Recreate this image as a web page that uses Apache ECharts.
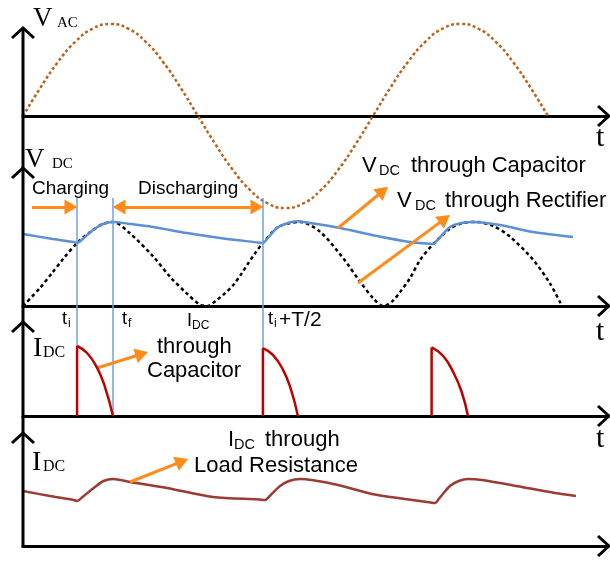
<!DOCTYPE html>
<html><head><meta charset="utf-8">
<script src="https://cdn.jsdelivr.net/npm/echarts@6/dist/echarts.min.js"></script>
<style>html,body{margin:0;padding:0;background:#fff}#c{width:610px;height:581px}</style>
</head><body><div id="c"></div>
<script>
// time axis in ms (50 Hz supply); voltages in V; currents normalised
const tMax = 33.43;

// Panel 1: AC supply voltage
const vacTime   = [0,1,2,3,4,5,6,7,8,9,10,11,12,13,14,15,16,17,18,19,20,21,22,23,24,25,26,27,28,29,30];
const vacValues = [0,3.09,5.88,8.09,9.51,10,9.51,8.09,5.88,3.09,0,-3.09,-5.88,-8.09,-9.51,-10,-9.51,-8.09,-5.88,-3.09,0,3.09,5.88,8.09,9.51,10,9.51,8.09,5.88,3.09,0];

// Panel 2: rectifier output and capacitor voltage
const vRectifier = [[0,0],[0.97,1.96],[1.66,3.59],[2.34,5.22],[3.09,6.85],[4.0,8.26],[4.57,8.91],[5.14,9.13],[6.11,7.9],[7.45,5.36],[8.4,3.18],[9.35,1.38],[10.11,0.15],[10.55,0],[11.07,0.65],[11.54,1.38],[12.02,2.28],[12.5,3.55],[12.87,4.64],[13.26,5.72],[13.71,6.85],[14.51,8.48],[15.26,9.02],[15.83,9.13],[16.97,8.08],[18.3,5.18],[19.26,2.64],[20.02,0.83],[20.59,0],[21.1,0.5],[21.54,1.5],[22.11,3.01],[22.69,5.0],[23.43,6.7],[24.4,8.4],[25.14,9.02],[25.94,9.13],[26.86,8.7],[27.83,7.54],[29.16,5.0],[30.11,2.46],[30.8,0]];
const vCapacitor = [[0,7.83],[1.71,7.28],[2.9,6.95],[3.09,6.85],[3.4,7.25],[4.0,8.26],[4.57,8.91],[5.14,9.13],[6.0,8.95],[7.43,8.59],[9.37,7.93],[11.26,7.39],[13.45,6.9],[13.71,6.85],[13.95,7.3],[14.51,8.48],[15.1,9.0],[15.66,9.2],[16.4,9.02],[18.11,8.48],[20.23,7.61],[22.11,6.96],[23.2,6.77],[23.43,6.74],[23.7,7.2],[24.4,8.59],[25.0,9.0],[25.71,9.13],[27.26,8.8],[29.14,8.04],[31.43,7.5]];

// instants t_i, t_f, t_i + T/2
const tMarks = [3.09, 5.14, 13.71];

// Panel 3: capacitor charging current pulses
const capPulse1 = [[3.09,0],[3.09,1.0],[3.66,0.9],[4.23,0.69],[4.69,0.41],[5.14,0]];
const capPulse2 = [[13.71,0],[13.71,0.97],[14.29,0.87],[14.86,0.66],[15.31,0.38],[15.71,0]];
const capPulse3 = [[23.35,0],[23.35,0.98],[24.0,0.86],[24.6,0.62],[25.06,0.35],[25.43,0]];

// Panel 4: load current
const iLoad = [[0,0.55],[1.54,0.50],[2.9,0.46],[3.09,0.45],[3.4,0.49],[4.11,0.59],[4.6,0.65],[5.14,0.67],[6.11,0.64],[8.23,0.58],[10.86,0.49],[13.5,0.465],[13.83,0.46],[14.1,0.5],[14.69,0.60],[15.2,0.65],[15.83,0.67],[18.0,0.61],[19.94,0.52],[21.83,0.47],[23.3,0.435],[23.54,0.43],[23.8,0.48],[24.4,0.60],[24.9,0.65],[25.43,0.67],[26.23,0.66],[28.51,0.59],[30.4,0.53],[31.6,0.50]];

// annotation arrows: [from, to]
const arrowCharging    = [[0.51,10.76],[2.74,10.76]];
const arrowDischarging = [[5.49,10.76],[13.37,10.76]];
const arrowCapVolt     = [[18.0,8.48],[20.57,12.5]];
const arrowRectVolt    = [[19.14,2.5],[24.1,9.47]];
const arrowCapCurrent  = [[4.23,0.686],[6.79,0.886]];
const arrowLoadCurrent = [[6.11,0.64],[9.09,0.846]];

const ORANGE = '#ff8c1a';
const SANS = "'Liberation Sans', Arial, sans-serif";
const SERIF = "'Liberation Serif', 'Times New Roman', serif";

const chart = echarts.init(document.getElementById('c'), null, {renderer:'canvas'});

const grids = [
  {left:23, top:24, width:585, height:184},
  {left:23, top:177.2, width:585, height:128.8},
  {left:23, top:346, width:585, height:70},
  {left:23, top:446, width:585, height:100},
  {left:23, top:198, width:585, height:218}
];
const yRanges = [[-10,10],[0,14],[0,1],[0,1],[0,1]];

function arrowML(pair, both) {
  return [
    {coord: pair[0], symbol: both ? 'triangle' : 'none'},
    {coord: pair[1], symbol: 'triangle'}
  ];
}
function markArrows(list) {
  return {
    silent: true, animation: false,
    symbolSize: [15, 13],
    lineStyle: {color: ORANGE, width: 3, type: 'solid'},
    itemStyle: {color: ORANGE},
    label: {show: false},
    emphasis: {disabled: true},
    data: list
  };
}
const base = {type:'line', showSymbol:false, symbol:'none', clip:false, animation:false, silent:true, emphasis:{disabled:true}};

const series = [
  Object.assign({}, base, {xAxisIndex:4, yAxisIndex:4, data:[], z:1,
    markLine:{silent:true, animation:false, symbol:['none','none'], label:{show:false},
      lineStyle:{color:'#6fa2de', width:1.5, type:'solid'}, emphasis:{disabled:true},
      data: tMarks.map(t=>({xAxis:t}))}}),
  Object.assign({}, base, {xAxisIndex:0, yAxisIndex:0, smooth:true,
    data: vacTime.map((t,i)=>[t, vacValues[i]]),
    lineStyle:{color:'#b8621b', width:2.5, type:[3,2.5]}}),
  Object.assign({}, base, {xAxisIndex:1, yAxisIndex:1, smooth:0.3,
    data: vRectifier, lineStyle:{color:'#000', width:2.5, type:[3.5,3]},
    markLine: markArrows([arrowML(arrowCharging,false), arrowML(arrowDischarging,true), arrowML(arrowCapVolt,false), arrowML(arrowRectVolt,false)])}),
  Object.assign({}, base, {xAxisIndex:1, yAxisIndex:1, smooth:0.3, z:3,
    data: vCapacitor, lineStyle:{color:'#5b8fd6', width:2.5}}),
  Object.assign({}, base, {xAxisIndex:3, yAxisIndex:3, smooth:0.3,
    data: iLoad, lineStyle:{color:'#9b3b33', width:2.5},
    markLine: markArrows([arrowML(arrowLoadCurrent,false)])})
];
[capPulse1, capPulse2, capPulse3].forEach((p, k) => {
  series.push(Object.assign({}, base, {xAxisIndex:2, yAxisIndex:2, smooth:false, z:5,
    data: p.slice(0,2), lineStyle:{color:'#c00000', width:2.5}}));
  const s = Object.assign({}, base, {xAxisIndex:2, yAxisIndex:2, smooth:0.5, z:5,
    data: p.slice(1), lineStyle:{color:'#c00000', width:2.5}});
  if (k === 0) s.markLine = markArrows([arrowML(arrowCapCurrent,false)]);
  series.push(s);
});

chart.setOption({
  backgroundColor:'#fff',
  animation:false,
  grid: grids.map(g => Object.assign({outerBoundsMode:'none', containLabel:false}, g)),
  xAxis: grids.map((g,i)=>({gridIndex:i, type:'value', min:0, max:tMax,
    axisLine:{show:i<4, onZero:true, lineStyle:{color:'#000', width:3}},
    axisTick:{show:false}, axisLabel:{show:false}, splitLine:{show:false}})),
  yAxis: grids.map((g,i)=>({gridIndex:i, type:'value', min:yRanges[i][0], max:yRanges[i][1],
    axisLine:{show:false}, axisTick:{show:false}, axisLabel:{show:false}, splitLine:{show:false}})),
  series: series
});

// decorations: axis arrows and text
const els = [];
const origin = chart.convertToPixel({gridIndex:0}, [0, 0]);
const ax = origin[0];
const ends = [0,1,2,3].map(i => chart.convertToPixel({gridIndex:i}, [tMax, 0]));
ends.forEach(p => {
  els.push({type:'polyline', silent:true, z:100,
    shape:{points:[[p[0]-10, p[1]-10],[p[0]+1, p[1]],[p[0]-10, p[1]+10]]},
    style:{stroke:'#000', lineWidth:3, fill:null}});
});
const upTips = [28, 168, 322, 433];
els.push({type:'line', silent:true, z:100, shape:{x1:ax, y1:upTips[0], x2:ax, y2:ends[3][1]+1.5},
  style:{stroke:'#000', lineWidth:3}});
upTips.forEach(y => {
  els.push({type:'polyline', silent:true, z:100,
    shape:{points:[[ax-11, y+10],[ax, y],[ax+11, y+10]]},
    style:{stroke:'#000', lineWidth:3, fill:null}});
});
function T(text, x, baseline, size, family) {
  const y = baseline - 0.33*size;
  els.push({type:'text', silent:true, z:101,
    style:{text:text, x:x, y:y, font: size + 'px ' + family, fill:'#000',
      align:'left', verticalAlign:'middle', textAlign:'left', textVerticalAlign:'middle'}});
}
// axis names
T('V', 33, 28, 27, SERIF);  T('AC', 57, 28, 15, SERIF);
T('V', 25, 169, 27, SERIF); T('DC', 52, 169, 15, SERIF);
T('I', 33, 358, 28, SERIF); T('DC', 43, 358, 16, SERIF);
T('I', 32, 472, 28, SERIF); T('DC', 43, 472, 16, SERIF);
T('t', 596, 148, 30, SERIF); T('t', 596, 342, 30, SERIF); T('t', 596, 449, 30, SERIF);
// annotations
T('Charging', 32, 195, 19, SANS);
T('Discharging', 138, 195, 19, SANS);
T('V', 362, 173, 22, SANS); T('DC', 379, 176, 14.5, SANS); T('through Capacitor', 411, 173, 22, SANS);
T('V', 397, 208, 22, SANS); T('DC', 415, 211, 14.5, SANS); T('through Rectifier', 445, 208, 22, SANS);
T('t', 62, 325, 18, SANS); T('i', 68, 328, 12, SANS);
T('t', 122, 325, 18, SANS); T('f', 128, 328, 12, SANS);
T('I', 187, 327, 18, SANS); T('DC', 192, 330, 12, SANS);
T('t', 268, 325, 18, SANS); T('i', 274, 328, 12, SANS); T('+T/2', 279, 327, 21, SANS);
T('through', 157, 354, 22, SANS); T('Capacitor', 147, 378, 22, SANS);
T('I', 228, 447, 22, SANS); T('DC', 234, 450, 14.5, SANS); T('through', 265, 447, 22, SANS);
T('Load Resistance', 194, 473, 22, SANS);

chart.setOption({graphic:{elements: els}});
</script>
</body></html>
